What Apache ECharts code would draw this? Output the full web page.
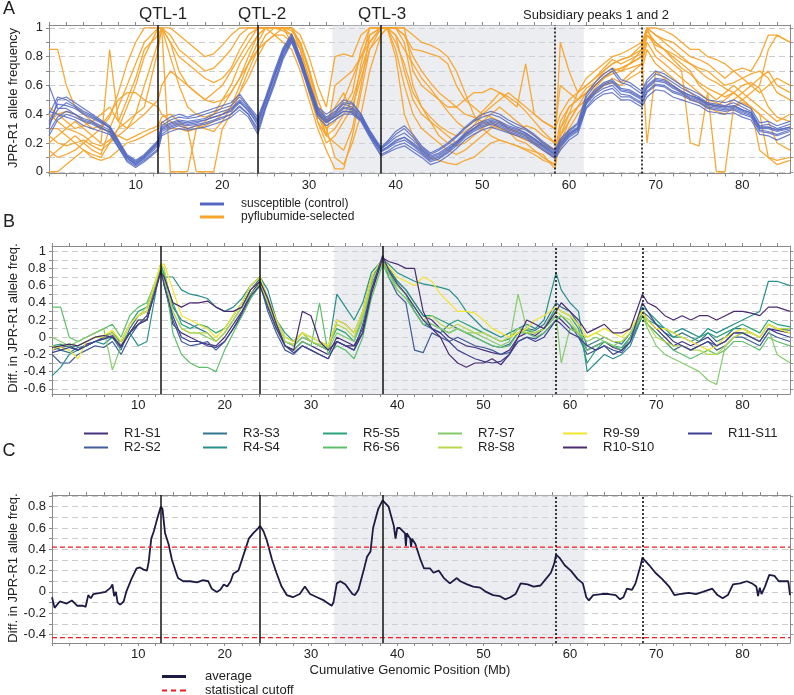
<!DOCTYPE html>
<html><head><meta charset="utf-8">
<script src="https://cdn.jsdelivr.net/npm/echarts@6/dist/echarts.min.js"></script>
<style>html,body{margin:0;padding:0;background:#fff}#c{width:794px;height:695px}</style>
</head><body><div id="c"></div>
<script>
// ---------- DATA ----------
const positions = [0,1,2,3,4,5,6,7,8,9, 10,11,12.6,13,14,15,16,17,18,19, 20,21,22,23,24.1,25,26,27,28,29,
 30,31,32,33,34,35,36,37,38.3,39, 40,41,42,43,44,45,46,47,48,49, 50,51,52,53,54,55,56,57,58.4,59,
 60,61,62,63,64,65,66,67,68.4,69, 70,71,72,73,74,75,76,77,78,79, 80,81,82,83,84,85.5];

const qtlPositions = [12.6, 24.1, 38.3];
const subsidiaryPositions = [58.4, 68.4];
const shadedRange = [32.7, 61.7];
const cutoffs = [0.42, -0.43];
const xRange = [0, 85.5];

const xTickValues = [0,2,4,6,8,10,12,14,16,18,20,22,24,26,28,30,32,34,36,38,40,42,44,46,48,50,52,54,56,58,60,62,64,66,68,70,72,74,76,78,80,82,84];
const xLabelValues = [10,20,30,40,50,60,70,80];
const yTicksA = [0,0.1,0.2,0.3,0.4,0.5,0.6,0.7,0.8,0.9,1];
const yLabelsA = [0,0.2,0.4,0.6,0.8,1];
const yTicksB = [-0.6,-0.5,-0.4,-0.3,-0.2,-0.1,0,0.1,0.2,0.3,0.4,0.5,0.6,0.7,0.8,0.9,1];
const yLabelsB = [-0.6,-0.4,-0.2,0,0.2,0.4,0.6,0.8,1];
const yTicksC = [-0.4,-0.3,-0.2,-0.1,0,0.1,0.2,0.3,0.4,0.5,0.6,0.7,0.8,0.9];
const yLabelsC = [-0.4,-0.2,0,0.2,0.4,0.6,0.8];

// Panel A: susceptible (control) replicates
const sus1 = [0.30,0.50,0.52,0.48,0.44,0.40,0.36,0.32,0.22,0.12, 0.08,0.12,0.22,0.34,0.38,0.40,0.38,0.40,0.42,0.44, 0.46,0.48,0.54,0.46,0.38,0.52,0.70,0.86,0.96,0.80, 0.62,0.45,0.40,0.44,0.50,0.48,0.40,0.28,0.16,0.20, 0.26,0.30,0.24,0.17,0.12,0.15,0.19,0.24,0.30,0.35, 0.38,0.40,0.38,0.34,0.31,0.29,0.25,0.20,0.14,0.22, 0.28,0.33,0.52,0.60,0.66,0.70,0.62,0.60,0.54,0.62, 0.68,0.66,0.62,0.58,0.55,0.52,0.48,0.47,0.46,0.48, 0.45,0.42,0.32,0.33,0.30,0.33];
const sus2 = [0.42,0.40,0.38,0.36,0.32,0.30,0.28,0.26,0.17,0.08, 0.04,0.08,0.16,0.26,0.30,0.32,0.30,0.32,0.33,0.35, 0.37,0.40,0.45,0.40,0.30,0.45,0.62,0.80,0.92,0.76, 0.58,0.40,0.34,0.38,0.42,0.42,0.36,0.25,0.12,0.14, 0.18,0.20,0.16,0.12,0.07,0.09,0.13,0.18,0.24,0.28, 0.31,0.33,0.31,0.28,0.26,0.24,0.20,0.16,0.10,0.17, 0.24,0.28,0.45,0.52,0.56,0.58,0.52,0.52,0.47,0.55, 0.60,0.59,0.55,0.53,0.50,0.48,0.44,0.43,0.42,0.43, 0.40,0.38,0.28,0.27,0.25,0.28];
const sus3 = [0.35,0.47,0.46,0.44,0.40,0.37,0.34,0.31,0.21,0.11, 0.07,0.11,0.21,0.31,0.34,0.36,0.35,0.36,0.37,0.40, 0.42,0.44,0.50,0.44,0.35,0.50,0.67,0.84,0.94,0.79, 0.61,0.43,0.37,0.41,0.47,0.45,0.39,0.28,0.16,0.19, 0.24,0.27,0.22,0.16,0.11,0.13,0.17,0.21,0.27,0.32, 0.35,0.37,0.35,0.32,0.30,0.27,0.23,0.19,0.13,0.21, 0.27,0.31,0.50,0.57,0.62,0.64,0.58,0.57,0.52,0.60, 0.65,0.64,0.60,0.56,0.53,0.51,0.47,0.46,0.45,0.46, 0.43,0.41,0.31,0.31,0.29,0.31];
const sus4 = [0.25,0.36,0.40,0.38,0.35,0.33,0.30,0.28,0.18,0.09, 0.05,0.09,0.18,0.28,0.31,0.33,0.32,0.33,0.34,0.36, 0.38,0.40,0.46,0.40,0.28,0.46,0.63,0.80,0.91,0.75, 0.57,0.40,0.34,0.38,0.42,0.41,0.36,0.26,0.14,0.16, 0.20,0.22,0.18,0.13,0.08,0.10,0.14,0.19,0.25,0.29, 0.32,0.34,0.32,0.29,0.27,0.25,0.21,0.17,0.11,0.18, 0.25,0.29,0.47,0.54,0.58,0.60,0.54,0.53,0.48,0.56, 0.61,0.60,0.56,0.54,0.51,0.49,0.45,0.44,0.43,0.44, 0.41,0.39,0.29,0.28,0.26,0.29];
const sus5 = [0.40,0.52,0.50,0.46,0.42,0.39,0.35,0.30,0.20,0.10, 0.06,0.10,0.19,0.29,0.32,0.34,0.33,0.34,0.36,0.38, 0.40,0.42,0.48,0.43,0.32,0.48,0.66,0.83,0.93,0.78, 0.60,0.42,0.36,0.40,0.45,0.44,0.38,0.27,0.15,0.17, 0.21,0.24,0.19,0.14,0.09,0.11,0.15,0.20,0.26,0.30, 0.33,0.35,0.33,0.30,0.28,0.26,0.22,0.18,0.12,0.19, 0.26,0.30,0.48,0.55,0.60,0.62,0.56,0.55,0.50,0.58, 0.63,0.62,0.58,0.55,0.52,0.50,0.46,0.45,0.44,0.45, 0.42,0.40,0.30,0.30,0.28,0.30];
const sus6 = [0.60,0.44,0.44,0.40,0.37,0.35,0.32,0.29,0.19,0.10, 0.05,0.10,0.20,0.30,0.33,0.35,0.34,0.35,0.36,0.38, 0.40,0.43,0.49,0.42,0.34,0.49,0.66,0.82,0.93,0.77, 0.59,0.41,0.35,0.39,0.44,0.43,0.37,0.26,0.14,0.17, 0.22,0.24,0.20,0.15,0.10,0.12,0.16,0.20,0.26,0.30, 0.34,0.36,0.34,0.31,0.29,0.27,0.23,0.18,0.12,0.20, 0.26,0.30,0.49,0.56,0.61,0.63,0.57,0.56,0.51,0.59, 0.64,0.63,0.59,0.56,0.53,0.51,0.47,0.46,0.45,0.46, 0.43,0.41,0.31,0.31,0.29,0.31];
const sus7 = [0.33,0.43,0.48,0.45,0.41,0.38,0.35,0.31,0.21,0.11, 0.07,0.11,0.21,0.32,0.36,0.38,0.37,0.38,0.40,0.42, 0.44,0.46,0.52,0.45,0.36,0.51,0.68,0.85,0.95,0.80, 0.61,0.44,0.38,0.42,0.48,0.47,0.40,0.29,0.17,0.21, 0.28,0.32,0.26,0.18,0.13,0.16,0.20,0.25,0.31,0.36, 0.40,0.42,0.40,0.36,0.33,0.30,0.26,0.21,0.15,0.23, 0.29,0.34,0.54,0.62,0.68,0.72,0.64,0.62,0.56,0.64, 0.70,0.68,0.64,0.60,0.57,0.54,0.50,0.49,0.48,0.50, 0.47,0.44,0.34,0.35,0.32,0.35];
const sus8 = [0.28,0.38,0.42,0.40,0.36,0.34,0.31,0.27,0.17,0.07, 0.03,0.07,0.15,0.25,0.28,0.30,0.29,0.30,0.31,0.33, 0.35,0.38,0.43,0.38,0.26,0.44,0.60,0.78,0.90,0.74, 0.56,0.38,0.32,0.36,0.40,0.40,0.35,0.24,0.11,0.13, 0.16,0.18,0.14,0.10,0.05,0.07,0.11,0.16,0.22,0.26, 0.29,0.31,0.29,0.27,0.25,0.23,0.19,0.15,0.09,0.15, 0.22,0.26,0.44,0.50,0.54,0.55,0.50,0.50,0.45,0.52, 0.57,0.56,0.52,0.50,0.48,0.46,0.42,0.41,0.40,0.41, 0.38,0.36,0.26,0.25,0.22,0.26];

// Panel A: pyflubumide-selected replicates
const sel1 = [0.85,0.85,0.60,0.45,0.40,0.35,0.30,0.38,0.55,0.75, 0.90,1.00,1.00,1.00,0.95,0.85,0.80,0.75,0.70,0.72, 0.78,0.85,0.95,1.00,1.00,1.00,1.00,1.00,1.00,0.95, 0.80,0.60,0.45,0.80,0.82,0.80,0.95,1.00,1.00,1.00, 1.00,0.95,0.85,0.84,0.82,0.80,0.75,0.60,0.50,0.45, 0.40,0.38,0.35,0.30,0.28,0.32,0.30,0.25,0.20,0.90, 0.70,0.55,0.60,0.65,0.70,0.75,0.78,0.80,0.85,1.00, 0.95,0.92,0.90,0.85,0.80,0.78,0.75,0.70,0.65,0.70, 0.72,0.70,0.80,0.95,0.95,0.90];
const sel2 = [0.00,0.00,0.05,0.10,0.15,0.12,0.10,0.20,0.30,0.45, 0.60,0.80,1.00,1.00,0.90,0.70,0.60,0.55,0.50,0.55, 0.60,0.70,0.80,0.90,1.00,1.00,1.00,0.98,0.95,0.85, 0.60,0.40,0.30,0.35,0.45,0.55,0.85,1.00,1.00,1.00, 0.95,0.70,0.50,0.40,0.35,0.25,0.20,0.18,0.20,0.25, 0.30,0.35,0.30,0.28,0.22,0.20,0.15,0.10,0.05,0.30, 0.45,0.50,0.55,0.62,0.68,0.72,0.70,0.75,0.80,0.95, 0.90,0.85,0.80,0.75,0.70,0.60,0.55,0.50,0.55,0.60, 0.55,0.50,0.45,0.40,0.35,0.40];
const sel3 = [0.40,0.35,0.30,0.28,0.25,0.20,0.18,0.22,0.30,0.35, 0.40,0.45,0.85,1.00,0.80,0.60,0.45,0.40,0.38,0.40, 0.45,0.55,0.65,0.80,0.95,1.00,1.00,1.00,1.00,0.90, 0.70,0.45,0.25,0.20,0.15,0.30,0.60,0.95,1.00,1.00, 0.85,0.60,0.40,0.30,0.25,0.20,0.15,0.12,0.15,0.20, 0.25,0.30,0.35,0.30,0.28,0.25,0.20,0.15,0.10,0.15, 0.30,0.40,0.48,0.55,0.60,0.62,0.60,0.65,0.70,0.85, 0.75,0.70,0.65,0.60,0.55,0.50,0.48,0.45,0.50,0.55, 0.50,0.45,0.15,0.10,0.08,0.10];
const sel4 = [0.20,0.25,0.30,0.35,0.30,0.25,0.20,0.85,0.35,0.50, 0.65,0.85,0.95,1.00,1.00,0.95,0.90,0.85,0.80,0.82, 0.88,0.95,1.00,1.00,1.00,1.00,1.00,1.00,0.90,0.80, 0.55,0.35,0.25,0.60,0.65,0.70,0.80,0.90,1.00,1.00, 1.00,1.00,0.70,0.60,0.55,0.50,0.45,0.45,0.50,0.55, 0.55,0.58,0.55,0.50,0.45,0.75,0.40,0.35,0.30,0.40, 0.50,0.55,0.65,0.70,0.75,0.80,0.82,0.85,0.90,1.00, 1.00,0.98,0.95,0.90,0.85,0.85,0.80,0.78,0.75,0.70, 0.65,0.60,0.55,0.60,0.65,0.60];
const sel5 = [0.30,0.30,0.25,0.20,0.15,0.10,0.08,0.10,0.15,0.20, 0.22,0.25,0.30,0.35,0.30,0.30,0.28,0.30,0.32,0.35, 0.40,0.45,0.60,0.75,0.90,1.00,1.00,1.00,1.00,0.85, 0.65,0.45,0.30,0.10,0.05,0.20,0.40,0.70,0.95,1.00, 0.80,0.40,0.25,0.15,0.10,0.08,0.06,0.05,0.08,0.10, 0.15,0.20,0.22,0.20,0.18,0.15,0.12,0.08,0.05,0.20, 0.35,0.45,0.50,0.58,0.65,0.70,0.72,0.75,0.85,1.00, 0.85,0.80,0.75,0.70,0.20,0.18,0.55,0.00,0.00,0.45, 0.50,0.55,0.60,0.85,0.95,0.90];
const sel6 = [0.10,0.15,0.20,0.25,0.20,0.15,0.12,0.30,0.45,0.60, 0.75,0.90,1.00,1.00,0.00,0.00,0.00,0.30,0.35,0.40, 0.50,0.60,0.75,0.85,0.95,1.00,0.95,0.90,0.85,0.70, 0.50,0.30,0.15,0.02,0.02,0.25,0.55,0.85,1.00,1.00, 1.00,0.90,0.60,0.45,0.35,0.30,0.25,0.20,0.25,0.30, 0.35,0.40,0.45,0.40,0.35,0.30,0.25,0.20,0.15,0.25, 0.40,0.55,0.60,0.65,0.72,0.78,0.75,0.78,0.82,0.20, 0.70,0.65,0.60,0.55,0.50,0.48,0.45,0.42,0.40,0.45, 0.48,0.45,0.40,0.35,0.20,0.15];
const sel7 = [0.35,0.40,0.42,0.40,0.35,0.30,0.32,0.40,0.50,0.55, 0.55,0.50,0.45,0.40,0.35,0.32,0.30,0.00,0.00,0.00, 0.30,0.40,0.55,0.70,0.85,0.95,1.00,1.00,0.95,0.85, 0.65,0.40,0.25,0.30,0.40,0.50,0.70,0.90,1.00,1.00, 0.90,0.75,0.55,0.45,0.38,0.32,0.28,0.25,0.28,0.32, 0.40,0.45,0.50,0.55,0.50,0.45,0.40,0.35,0.30,0.60, 0.55,0.50,0.55,0.60,0.65,0.68,0.70,0.72,0.75,0.90, 0.80,0.75,0.70,0.65,0.60,0.55,0.50,0.48,0.45,0.50, 0.55,0.60,0.65,0.70,0.60,0.55];
const sel8 = [0.45,0.40,0.35,0.30,0.32,0.35,0.40,0.45,0.35,0.30, 0.35,0.40,0.50,0.60,0.70,0.65,0.60,0.55,0.50,0.48, 0.50,0.55,0.65,0.75,0.85,0.90,0.95,0.95,0.90,0.80, 0.60,0.35,0.20,0.25,0.35,0.45,0.65,0.85,0.95,1.00, 1.00,0.95,0.80,0.70,0.62,0.55,0.50,0.45,0.40,0.38, 0.35,0.32,0.30,0.28,0.25,0.22,0.20,0.18,0.15,0.35, 0.45,0.50,0.58,0.62,0.70,0.75,0.78,0.80,0.88,1.00, 0.95,0.90,0.85,0.80,0.75,0.72,0.70,0.65,0.60,0.62, 0.65,0.68,0.70,0.65,0.55,0.50];
const sel9 = [0.15,0.10,0.12,0.15,0.20,0.25,0.30,0.28,0.25,0.30, 0.40,0.60,0.90,1.00,0.90,0.80,0.75,0.70,0.65,0.62, 0.65,0.72,0.85,0.95,1.00,1.00,1.00,1.00,0.98,0.90, 0.72,0.50,0.35,0.45,0.55,0.40,0.75,1.00,1.00,1.00, 1.00,1.00,0.95,0.90,0.88,0.85,0.80,0.70,0.55,0.40, 0.30,0.25,0.22,0.20,0.18,0.16,0.14,0.12,0.02,0.30, 0.40,0.45,0.50,0.55,0.60,0.65,0.62,0.68,0.75,0.95, 0.88,0.85,0.82,0.78,0.75,0.70,0.65,0.62,0.58,0.55, 0.50,0.45,0.40,0.10,0.05,0.08];
const sel10 = [0.25,0.20,0.18,0.20,0.22,0.18,0.15,0.20,0.25,0.22, 0.25,0.28,0.32,0.38,0.40,0.35,0.30,0.32,0.30,0.28, 0.35,0.45,0.55,0.65,0.80,0.90,0.95,1.00,1.00,0.88, 0.70,0.50,0.35,0.40,0.50,0.65,0.80,0.95,1.00,1.00, 0.95,0.85,0.75,0.65,0.58,0.50,0.42,0.35,0.30,0.35, 0.42,0.48,0.55,0.52,0.48,0.42,0.35,0.28,0.20,0.25, 0.35,0.45,0.55,0.60,0.65,0.70,0.72,0.75,0.80,0.98, 0.90,0.85,0.78,0.72,0.68,0.62,0.58,0.55,0.52,0.55, 0.60,0.62,0.58,0.45,0.38,0.35];

// Panel B: differences R - S per replicate
const diff1 = [-0.15,-0.12,-0.10,-0.15,-0.08,-0.05,0.00,0.05,-0.10,0.05, 0.15,0.25,0.80,0.65,0.15,0.05,0.00,-0.05,-0.08,-0.10, 0.00,0.15,0.30,0.50,0.65,0.35,0.10,-0.10,-0.15,-0.05, -0.10,-0.15,-0.20,0.00,-0.05,-0.10,0.10,0.55,0.90,0.80, 0.65,0.55,0.40,0.25,0.20,0.10,0.00,-0.05,-0.10,-0.12, -0.15,-0.18,-0.20,-0.15,0.00,0.05,0.02,0.10,0.25,0.20, 0.10,0.05,-0.15,-0.10,-0.05,-0.12,-0.15,0.00,0.30,0.20, 0.10,0.00,-0.10,-0.05,-0.10,-0.05,0.00,-0.10,-0.05,0.05, 0.05,0.00,-0.05,0.10,0.08,0.05];
const diff2 = [-0.20,-0.30,-0.30,-0.20,-0.15,-0.10,-0.12,-0.05,-0.20,0.00, 0.15,0.20,0.85,0.60,0.20,-0.05,-0.10,-0.08,-0.05,-0.15, -0.05,0.10,0.25,0.45,0.62,0.30,0.05,-0.15,-0.20,-0.10, -0.15,-0.20,-0.25,-0.05,-0.10,-0.15,0.15,0.60,0.92,0.70, 0.50,0.40,-0.15,-0.18,0.05,0.00,-0.05,0.00,-0.05,-0.10, -0.12,-0.15,-0.20,-0.18,-0.05,0.00,-0.02,0.05,0.20,0.25, 0.15,0.00,-0.20,-0.15,-0.10,-0.15,-0.18,-0.05,0.25,0.15, 0.05,-0.05,-0.15,-0.10,-0.15,-0.10,-0.05,-0.15,-0.10,0.00, 0.00,-0.05,-0.10,0.05,0.00,-0.05];
const diff3 = [-0.10,-0.15,-0.18,-0.12,-0.10,-0.05,-0.02,0.00,-0.15,0.10, 0.25,0.30,0.82,0.75,0.35,0.20,0.15,0.10,0.05,-0.05, 0.05,0.20,0.35,0.55,0.68,0.40,0.15,-0.05,-0.10,0.00, -0.05,-0.10,-0.15,0.20,0.15,0.05,0.30,0.70,0.88,0.75, 0.60,0.50,0.30,0.15,0.10,0.05,0.15,0.10,0.05,0.00, -0.05,-0.10,-0.12,-0.08,0.05,0.10,0.08,0.15,0.40,0.35, 0.30,0.15,-0.10,-0.05,0.00,-0.05,-0.08,0.05,0.30,0.25, 0.15,0.05,0.00,0.05,0.00,-0.05,0.05,-0.05,0.00,0.10, 0.10,0.05,0.00,0.15,0.10,0.08];
const diff4 = [-0.45,-0.35,-0.20,-0.15,-0.10,-0.05,-0.08,0.00,-0.05,0.05, -0.10,-0.05,0.85,0.70,0.70,0.55,0.50,0.48,0.45,0.35, 0.30,0.35,0.45,0.60,0.70,0.55,0.20,0.05,-0.05,0.05, -0.05,-0.10,-0.15,0.50,0.35,0.20,0.40,0.75,0.90,0.85, 0.75,0.70,0.65,0.62,0.60,0.58,0.55,0.45,0.30,0.20, 0.10,0.05,0.00,0.05,0.10,0.15,0.10,0.20,0.75,0.55, 0.40,0.30,-0.40,-0.30,-0.20,-0.25,-0.20,-0.10,0.25,0.20, 0.15,0.10,0.05,0.10,0.05,0.00,0.10,0.05,0.10,0.15, 0.20,0.25,0.30,0.65,0.65,0.60];
const diff5 = [-0.10,-0.08,-0.12,-0.10,-0.05,0.00,0.02,0.05,-0.05,0.15, 0.30,0.35,0.80,0.70,0.40,0.15,0.10,0.15,0.12,0.05, 0.10,0.25,0.40,0.60,0.70,0.45,0.20,0.00,-0.05,0.05, 0.00,-0.05,-0.10,0.10,0.05,-0.05,0.25,0.65,0.92,0.80, 0.65,0.55,0.40,0.25,0.25,0.20,0.15,0.20,0.15,0.10, 0.05,0.00,-0.05,-0.02,0.10,0.08,0.05,0.10,0.35,0.30, 0.25,0.10,-0.30,-0.15,-0.05,-0.10,-0.12,0.00,0.35,0.30, 0.20,0.10,0.00,0.00,-0.05,0.00,0.05,0.00,0.05,0.10, 0.15,0.10,0.05,0.20,0.15,0.12];
const diff6 = [0.35,0.35,0.00,-0.05,0.00,0.05,0.10,0.15,0.00,0.25, 0.35,0.40,0.80,0.75,0.05,-0.20,-0.30,-0.35,-0.35,-0.40, -0.15,0.05,0.25,0.45,0.60,0.35,0.10,-0.10,-0.15,-0.05, -0.10,0.40,-0.20,-0.10,-0.15,-0.25,0.00,0.45,0.85,0.70, 0.55,0.45,0.30,0.15,0.15,0.10,0.05,0.10,0.05,0.00, -0.05,-0.10,-0.12,-0.10,0.05,0.05,0.00,0.05,0.20,0.25, 0.15,0.05,-0.15,-0.10,-0.05,-0.10,-0.15,0.00,0.25,0.15, 0.05,-0.05,-0.15,-0.20,-0.25,-0.20,-0.15,-0.20,-0.15,-0.05, -0.05,-0.10,-0.15,0.00,-0.05,-0.10];
const diff7 = [0.00,-0.05,-0.10,-0.05,0.00,0.05,0.10,-0.38,-0.10,0.05, 0.20,0.20,0.82,0.65,0.30,0.10,0.05,0.05,0.00,-0.05, 0.05,0.20,0.35,0.50,0.62,0.40,0.15,-0.05,-0.10,0.00, -0.05,-0.10,-0.15,0.05,0.00,-0.05,0.20,0.60,0.85,0.75, 0.55,0.45,0.35,0.20,0.15,0.10,0.05,0.10,0.05,0.05, 0.00,-0.05,-0.10,-0.05,0.50,0.10,0.05,0.10,0.25,-0.30, 0.10,0.05,-0.05,0.00,-0.05,-0.10,-0.05,0.05,0.25,0.10, -0.10,-0.20,-0.25,-0.30,-0.35,-0.40,-0.50,-0.55,-0.10,0.00, 0.05,0.00,-0.05,0.10,-0.20,-0.30];
const diff8 = [-0.15,-0.10,-0.08,-0.10,-0.05,0.00,0.00,0.05,-0.10,0.15, 0.25,0.35,0.85,0.80,0.30,0.10,0.05,0.05,0.05,-0.05, 0.05,0.20,0.35,0.55,0.65,0.40,0.15,-0.05,-0.08,0.05, -0.05,-0.08,-0.12,0.15,0.10,0.00,0.25,0.65,0.88,0.78, 0.60,0.50,0.35,0.20,0.25,0.15,0.10,0.15,0.10,0.05, 0.05,0.00,-0.05,0.00,0.10,0.05,0.05,0.10,0.30,0.25, 0.20,0.05,0.00,0.05,0.00,-0.05,-0.05,0.05,0.30,0.15, 0.00,-0.05,-0.10,-0.10,-0.15,-0.15,-0.20,-0.20,-0.10,0.00, 0.05,0.05,0.00,0.15,0.10,0.10];
const diff9 = [-0.10,-0.12,-0.15,-0.25,-0.05,0.00,0.02,0.08,-0.05,0.15, 0.25,0.30,0.85,0.85,0.55,0.25,0.20,0.15,0.10,0.00, 0.10,0.25,0.40,0.60,0.70,0.45,0.20,0.00,-0.05,0.05, 0.00,-0.05,-0.10,0.20,0.15,0.05,0.30,0.70,0.92,0.82, 0.70,0.65,0.60,0.70,0.65,0.50,0.40,0.30,0.30,0.28, 0.20,0.10,0.05,0.00,0.05,0.10,0.20,0.25,0.35,0.30, 0.25,0.15,0.00,0.05,0.10,0.05,0.00,0.10,0.30,0.20, 0.10,0.10,0.05,0.00,-0.05,-0.10,-0.15,-0.10,0.00,0.05, 0.10,0.05,0.00,0.15,0.10,0.05];
const diff10 = [-0.12,-0.10,-0.08,-0.10,-0.05,0.00,0.02,0.00,-0.10,0.05, 0.20,0.20,0.75,0.70,0.40,0.35,0.40,0.40,0.42,0.35, 0.30,0.30,0.35,0.55,0.65,0.45,0.15,-0.10,-0.15,0.30, 0.25,-0.05,-0.15,-0.05,-0.10,-0.10,0.05,0.50,0.92,0.88, 0.85,0.80,0.80,0.30,0.10,0.00,-0.20,-0.30,-0.35,-0.30, -0.30,-0.25,-0.32,-0.20,0.00,0.20,0.15,0.10,0.30,0.40, 0.30,0.20,0.05,0.10,0.15,0.05,0.05,0.10,0.50,0.40, 0.35,0.25,0.20,0.25,0.20,0.25,0.25,0.20,0.25,0.30, 0.30,0.28,0.25,0.35,0.35,0.30];
const diff11 = [-0.18,-0.15,-0.12,-0.15,-0.10,-0.05,-0.02,0.02,-0.12,0.05, 0.15,0.20,0.78,0.60,0.25,0.00,-0.05,-0.05,-0.10,-0.12, -0.05,0.10,0.28,0.48,0.60,0.35,0.10,-0.10,-0.18,-0.10, -0.15,-0.20,-0.25,-0.05,-0.10,-0.15,0.05,0.55,0.95,0.78, 0.62,0.50,0.35,0.20,0.10,0.05,-0.05,-0.15,-0.20,-0.25, -0.28,-0.30,-0.28,-0.20,-0.05,0.00,-0.05,0.00,0.20,0.15, 0.05,0.00,-0.10,-0.15,-0.10,-0.20,-0.15,-0.05,0.40,0.30, 0.15,0.05,-0.05,-0.10,-0.15,-0.10,-0.05,-0.10,-0.05,0.05, 0.05,0.00,-0.05,0.10,0.05,0.00];

// Panel C: average difference
const avgPos = [0,0.3,0.9,1.7,2.3,2.9,3.6,3.9,4.2,4.5,4.8,5.6,6.2,6.8,7.0,7.2,7.4,7.6,7.9,8.3,8.6,9.2,9.8,10.2,10.6,11.0,11.2,11.5,11.8,12.1,12.6,12.8,13.1,13.5,13.9,14.3,14.6,15.2,16.0,16.8,17.5,18.1,18.5,19.1,19.5,19.9,20.3,20.7,21.0,21.6,22.2,22.8,23.3,23.9,24.1,24.5,24.9,25.5,26.0,26.6,27.2,27.9,28.7,29.3,29.9,30.7,31.5,32.4,32.6,33.0,33.4,34.0,34.8,35.1,35.5,36.1,36.5,36.9,37.2,37.8,38.3,39.0,39.6,39.8,40.0,40.3,40.9,41.0,41.1,41.5,41.6,41.7,42.1,42.7,43.1,43.8,44.2,44.8,45.4,46.1,46.9,47.3,48.1,48.8,49.6,50.3,51.1,51.9,52.5,53.1,53.7,54.3,55.1,55.8,56.6,57.2,57.8,58.2,58.4,58.8,59.4,60.1,60.9,61.5,61.9,62.2,62.7,63.7,64.5,65.3,65.8,66.2,66.6,67.2,67.6,68.2,68.4,69.2,69.9,70.7,71.5,72.1,72.7,73.8,74.6,75.4,76.5,77.1,77.7,78.3,78.9,79.7,80.5,81.1,81.6,81.8,82.0,82.2,82.6,83.1,83.7,84.2,85.3,85.5];
const avgVal = [-0.05,-0.15,-0.09,-0.11,-0.08,-0.13,-0.13,-0.14,-0.03,-0.06,-0.02,-0.01,0.00,0.04,0.07,-0.04,0.00,-0.10,-0.12,-0.09,0.00,0.12,0.22,0.23,0.21,0.20,0.28,0.50,0.57,0.66,0.80,0.78,0.55,0.45,0.30,0.20,0.13,0.10,0.10,0.09,0.11,0.10,0.03,0.00,0.02,0.07,0.05,0.10,0.17,0.20,0.35,0.50,0.55,0.60,0.62,0.57,0.48,0.30,0.18,0.05,-0.03,-0.05,-0.02,0.05,-0.02,-0.05,-0.08,-0.13,-0.10,0.08,0.10,0.07,-0.02,-0.03,0.02,0.20,0.33,0.38,0.60,0.78,0.86,0.80,0.62,0.50,0.60,0.60,0.55,0.43,0.55,0.50,0.42,0.50,0.45,0.30,0.22,0.22,0.18,0.20,0.13,0.08,0.13,0.10,0.07,0.05,0.04,0.00,-0.03,-0.04,-0.07,-0.05,-0.02,0.08,0.07,0.05,0.06,0.12,0.18,0.27,0.35,0.32,0.25,0.20,0.12,0.08,-0.05,-0.08,-0.03,-0.02,-0.02,-0.03,-0.07,-0.05,0.03,0.02,0.08,0.25,0.32,0.25,0.18,0.12,0.05,-0.03,-0.02,-0.01,-0.02,0.00,0.03,-0.03,-0.06,-0.03,0.07,0.08,0.10,0.08,0.05,-0.04,0.04,-0.02,0.05,0.16,0.15,0.10,0.10,-0.03];

const susceptibleSets = [sus1,sus2,sus3,sus4,sus5,sus6,sus7,sus8];
const selectedSets = [sel1,sel2,sel3,sel4,sel5,sel6,sel7,sel8,sel9,sel10];
const diffSets = [diff1,diff2,diff3,diff4,diff5,diff6,diff7,diff8,diff9,diff10,diff11];
const diffNames = ['R1-S1','R2-S2','R3-S3','R4-S4','R5-S5','R6-S6','R7-S7','R8-S8','R9-S9','R10-S10','R11-S11'];
const diffColors = ['#46337e','#3e5c98','#34758f','#28908c','#2aa27a','#5cbf6a','#84cc6a','#b9d84c','#f2e52a','#4a2a72','#3f3f92'];

// ---------- CHART ----------
const FONT = '"Liberation Sans", Arial, Helvetica, sans-serif';
const frameColor = '#8a8a8a';
const textColor = '#222';
const cutoffColor = '#ee1c25';

function xAxes(g) {
  const base = {
    type: 'value', gridIndex: g, min: xRange[0], max: xRange[1],
    axisLine: {show: true, onZero: false, lineStyle: {color: frameColor}},
    axisTick: {show: true, inside: false, length: 3, customValues: xTickValues, lineStyle: {color: frameColor}},
    splitLine: {show: false}
  };
  return [
    Object.assign({}, base, {position: 'bottom',
      axisLabel: {customValues: xLabelValues, margin: 5, fontSize: 13, color: textColor, fontFamily: FONT}}),
    Object.assign({}, base, {position: 'top', axisLabel: {show: false}})
  ];
}
function yAxes(g, min, max, ticks, labels) {
  const base = {
    type: 'value', gridIndex: g, min: min, max: max,
    axisLine: {show: true, onZero: false, lineStyle: {color: frameColor}},
    axisTick: {show: true, inside: false, length: 3, customValues: ticks, lineStyle: {color: frameColor}}
  };
  return [
    Object.assign({}, base, {position: 'left',
      axisLabel: {customValues: labels, margin: 6, fontSize: 13, color: textColor, fontFamily: FONT},
      splitLine: {show: true, lineStyle: {color: '#cccccc', type: [6, 4], width: 1}}}),
    Object.assign({}, base, {position: 'right', axisLabel: {show: false}, splitLine: {show: false}})
  ];
}
function line(name, vals, axisIdx, color, width, opacity) {
  return {
    type: 'line', name: name, xAxisIndex: axisIdx, yAxisIndex: axisIdx,
    data: positions.map((x, i) => [x, vals[i]]),
    symbol: 'none', showSymbol: false, silent: true, animation: false,
    lineStyle: {color: color, width: width, opacity: opacity},
    itemStyle: {color: color}
  };
}
function markers() {
  const lines = qtlPositions.map(v => ({xAxis: v, lineStyle: {color: '#111', width: 1.5, type: 'solid'}}))
    .concat(subsidiaryPositions.map(v => ({xAxis: v, lineStyle: {color: '#111', width: 1.6, type: [2, 2]}})));
  return {
    markLine: {silent: true, symbol: ['none', 'none'], label: {show: false}, animation: false, data: lines},
    markArea: {silent: true, animation: false, itemStyle: {color: 'rgba(212,216,222,0.45)'},
      data: [[{xAxis: shadedRange[0]}, {xAxis: shadedRange[1]}]]}
  };
}

const series = [];
selectedSets.forEach((d, i) => series.push(line(i === 0 ? 'pyflubumide-selected' : 'pyflubumide-selected ' + (i + 1), d, 0, '#f8a42a', 1.3, 0.95)));
susceptibleSets.forEach((d, i) => series.push(line(i === 0 ? 'susceptible (control)' : 'susceptible ' + (i + 1), d, 0, '#5468c2', 1.2, 0.85)));
Object.assign(series[0], markers());
diffSets.forEach((d, i) => series.push(line(diffNames[i], d, 2, diffColors[i], 1.2, 1)));
Object.assign(series[series.length - 11], markers());
// cutoff lines as plain dashed series spanning the axis range
cutoffs.forEach(v => series.push({
  type: 'line', name: 'statistical cutoff', xAxisIndex: 4, yAxisIndex: 4,
  data: xRange.map(x => [x, v]), symbol: 'none', showSymbol: false, silent: true, animation: false, z: 4,
  lineStyle: {color: cutoffColor, width: 1.2, type: [5, 3]}, itemStyle: {color: cutoffColor}
}));
const avgSeries = {
  type: 'line', name: 'average', xAxisIndex: 4, yAxisIndex: 4,
  data: avgPos.map((x, i) => [x, avgVal[i]]),
  symbol: 'none', showSymbol: false, silent: true, animation: false,
  lineStyle: {color: '#1d1a45', width: 1.8}, itemStyle: {color: '#1d1a45'}
};
Object.assign(avgSeries, markers());
series.push(avgSeries);

const legendText = {fontSize: 13, color: textColor, fontFamily: FONT, padding: [0, 0, 0, 11]};
const legends = [
  {orient: 'vertical', left: 195, top: 193, itemWidth: 24, itemHeight: 3, itemGap: 1, selectedMode: false,
   textStyle: Object.assign({}, legendText, {fontSize: 12, padding: [0, 0, 0, 12]}),
   data: [{name: 'susceptible (control)', icon: 'rect'}, {name: 'pyflubumide-selected', icon: 'rect'}]}
];
const colLefts = [79, 198, 318, 433, 558, 683];
colLefts.forEach((lft, c) => {
  const names = diffNames.slice(c * 2, c * 2 + 2);
  legends.push({orient: 'vertical', left: lft, top: 422, itemWidth: 24, itemHeight: 2, itemGap: 1, selectedMode: false,
    textStyle: legendText, data: names.map(n => ({name: n, icon: 'rect'}))});
});
legends.push({orient: 'vertical', left: 157, top: 665, itemWidth: 24, itemHeight: 3, selectedMode: false,
  textStyle: Object.assign({}, legendText, {padding: [0, 0, 0, 14]}),
  data: [{name: 'average', icon: 'rect'}]});
legends.push({orient: 'vertical', left: 157, top: 679, itemWidth: 24, itemHeight: 2, selectedMode: false,
  textStyle: Object.assign({}, legendText, {padding: [0, 0, 0, 14]}),
  data: [{name: 'statistical cutoff', icon: 'path://M0,0h5v2h-5zM9,0h5v2h-5zM18,0h6v2h-6z'}]});

function txt(s, x, y, size, opts) {
  return Object.assign({type: 'text', x: x, y: y, silent: true,
    style: {text: s, font: size + 'px ' + FONT, fill: textColor,
      align: 'center', verticalAlign: 'middle', textAlign: 'center', textVerticalAlign: 'middle'}}, opts || {});
}
const graphics = [
  txt('A', 9, 9, 18), txt('B', 9, 222, 18), txt('C', 9, 451, 18),
  txt('QTL-1', 163, 14, 17), txt('QTL-2', 262, 14, 17), txt('QTL-3', 382, 14, 17),
  txt('Subsidiary peaks 1 and 2', 596, 15, 13),
  txt('JPR-R1 allele frequency', 13, 98, 13, {rotation: Math.PI / 2}),
  txt('Diff. in JPR-R1 allele freq.', 13, 318, 13, {rotation: Math.PI / 2}),
  txt('Diff. in JPR-R1 allele freq.', 13, 568, 13, {rotation: Math.PI / 2}),
  txt('Cumulative Genomic Position (Mb)', 410, 670, 13)
];

const option = {
  animation: false,
  backgroundColor: '#fff',
  textStyle: {fontFamily: FONT},
  grid: [
    {left: 49, right: 4, top: 25, height: 148.5},
    {left: 52, right: 4, top: 246, height: 148},
    {left: 52, right: 4, top: 495, height: 148}
  ],
  xAxis: [].concat(xAxes(0), xAxes(1), xAxes(2)),
  yAxis: [].concat(
    yAxes(0, -0.012, 1.02, yTicksA, yLabelsA),
    yAxes(1, -0.66, 1.06, yTicksB, yLabelsB),
    yAxes(2, -0.48, 0.91, yTicksC, yLabelsC)),
  legend: legends,
  series: series,
  graphic: graphics
};
const chart = echarts.init(document.getElementById('c'), null, {renderer: 'canvas'});
chart.setOption(option);
</script></body></html>
